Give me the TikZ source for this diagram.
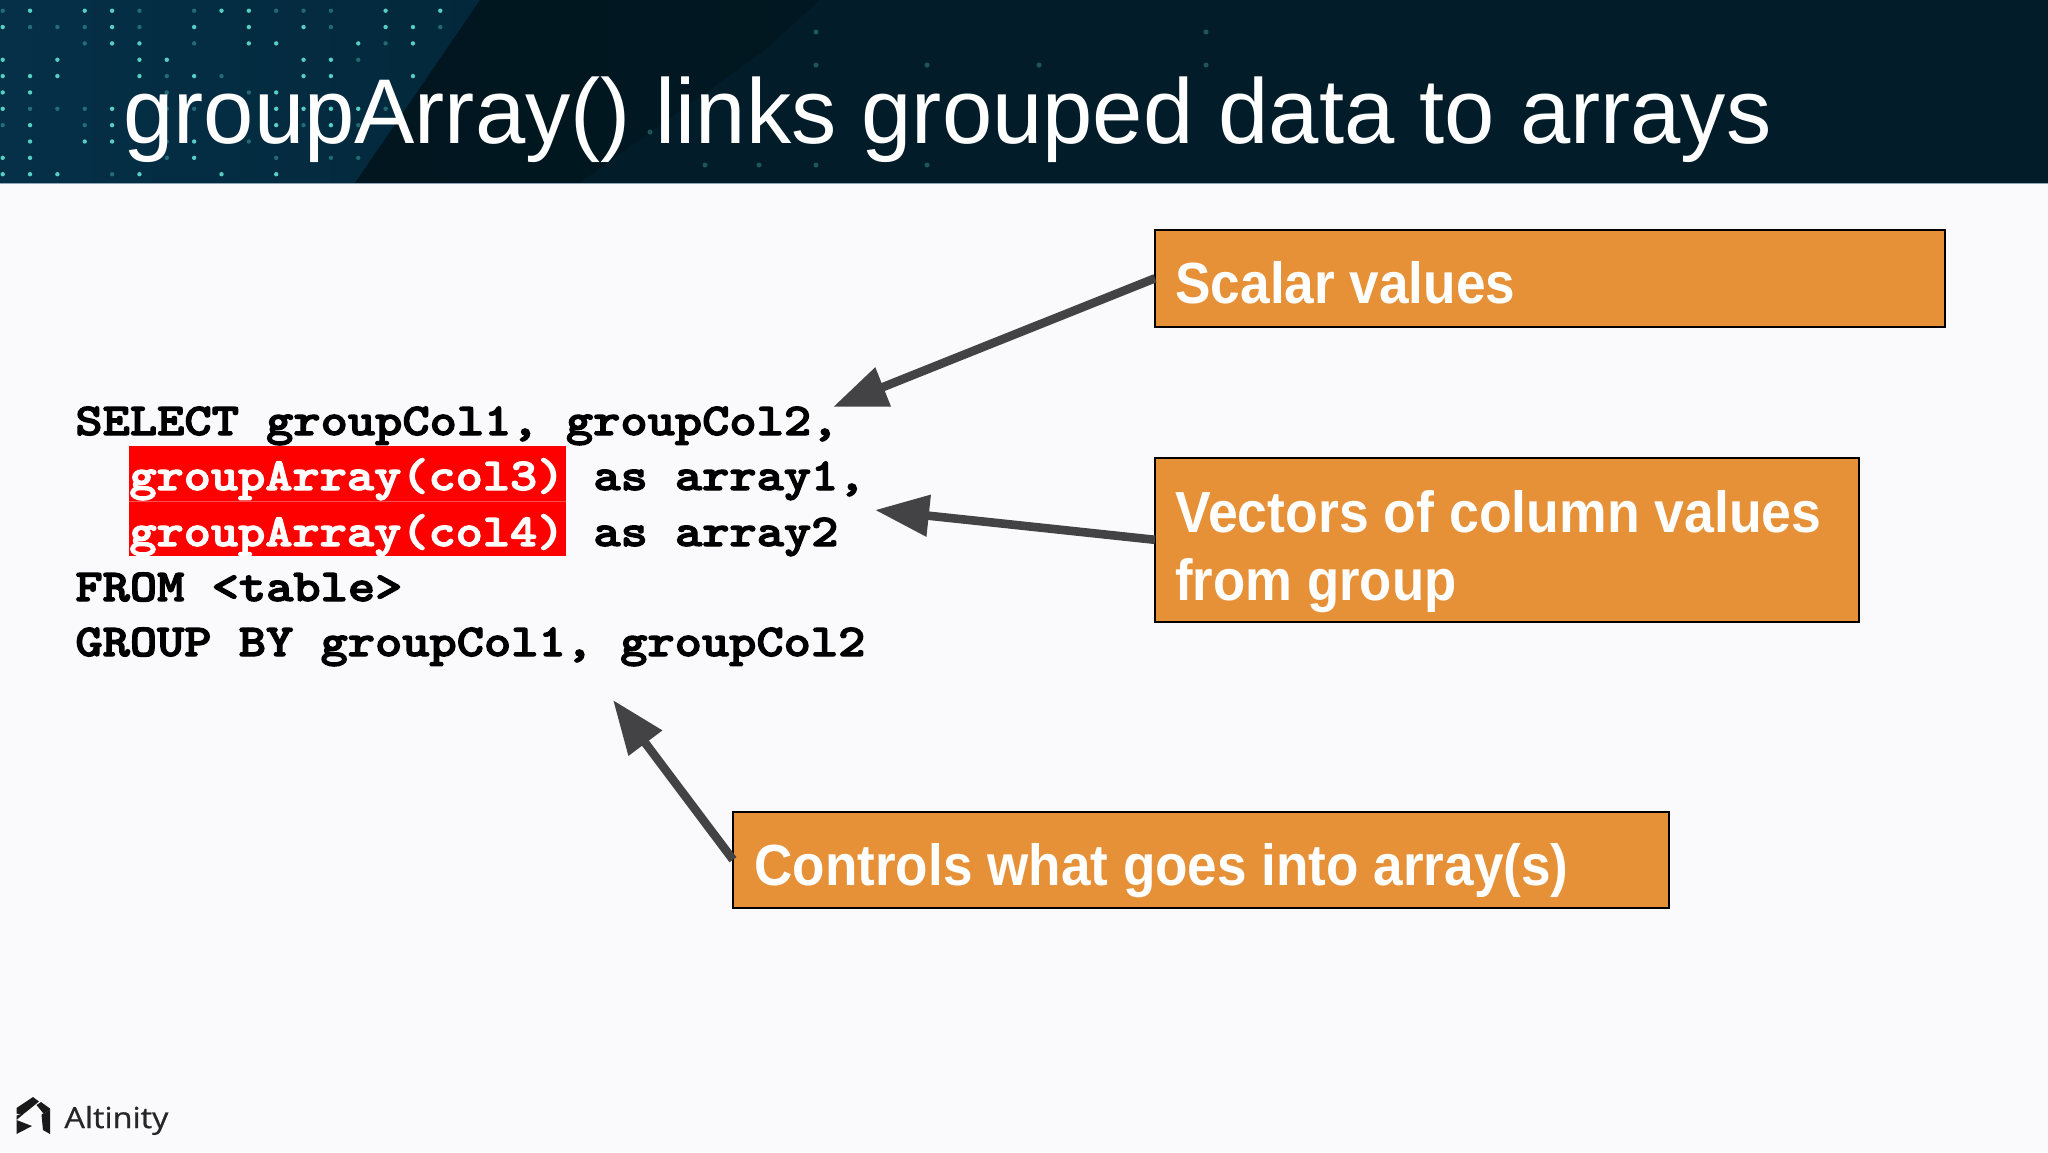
\documentclass[tikz,border=0pt]{standalone}
\usepackage{fontspec}
\usepackage{graphicx}
\usetikzlibrary{arrows.meta,shadings}
\setmainfont{Liberation Sans}
\newfontfamily\logofont[FakeBold=0.6]{Open Sans}
\newfontfamily\codefont[Extension=.otf,FakeBold=2.5]{lmmonolt10-bold}
\definecolor{pagebg}{HTML}{FAF9FC}
\definecolor{hdrL}{HTML}{053048}
\definecolor{hdrM}{HTML}{03283B}
\definecolor{hdrD}{HTML}{01161F}
\definecolor{hdrR}{HTML}{021D29}
\definecolor{hdrline}{HTML}{8FA6B8}
\definecolor{dotb}{HTML}{5FE0D0}
\definecolor{boxorange}{HTML}{E69138}
\definecolor{arrowgrey}{HTML}{434244}
\newcommand{\fitw}[2]{\resizebox{#1}{\height}{#2}}
\newcommand{\codew}[3]{\resizebox{#1}{#3\height}{\codefont #2}}
\tikzset{
  x=0.5pt,y=-0.5pt,
  callout/.style={draw=black,fill=boxorange,line width=1pt,inner sep=0pt,outer sep=0pt,anchor=north west},
  calltext/.style={text=white,anchor=base west,inner sep=0pt,font=\fontsize{29}{29}\selectfont\bfseries},
  code/.style={anchor=base west,inner sep=0pt,text=black,font=\fontsize{26}{26}\selectfont},
  hl/.style={fill=red,draw=none,inner sep=0pt,outer sep=0pt,anchor=north west,minimum width=218.25pt},
  pointer/.style={draw=arrowgrey,line width=4.3pt,-{Triangle[length=27pt,width=20pt,fill=arrowgrey]}},
}
\newcommand{\dotrow}[3]{\foreach \c in {#2}{\fill[dotb,opacity=#3] ({2.7+27.35*\c},{10.7+16.35*#1}) circle (2.2);}}
\begin{document}
\begin{tikzpicture}
\useasboundingbox (0,0) rectangle (2048,1152);
\fill[pagebg] (0,0) rectangle (2048,1152);
% header
\shade[left color=hdrL,right color=hdrM] (0,0) rectangle (480,183);
\shade[left color=hdrD,right color=hdrR] (355,183) -- (480,0) -- (2048,0) -- (2048,183) -- cycle;
\fill[hdrR] (580,183) -- (765,50) -- (820,0) -- (2048,0) -- (2048,183) -- cycle;
% dots
\dotrow{0}{1,3,4,8,9,14,16}{0.9}\dotrow{0}{0,5,7,10,11,12}{0.35}
\dotrow{1}{0,4,7,9,11,14,15}{0.9}\dotrow{1}{1,2,3,5,12,16}{0.35}
\dotrow{2}{4,5,9,10,13,15}{0.9}\dotrow{2}{3,7,14}{0.35}
\dotrow{3}{0,2,5,6,11,12}{0.9}\dotrow{3}{13}{0.35}
\dotrow{4}{0,1,2,5,7,11,12,15}{0.9}\dotrow{4}{6,8}{0.35}
\dotrow{5}{0,1,10}{0.9}\dotrow{5}{6,9}{0.35}
\dotrow{6}{0,4,10,11,12,13}{0.9}\dotrow{6}{1,2,3,6,7,14}{0.35}
\dotrow{7}{1,4,10,12}{0.9}\dotrow{7}{0,3,11,13}{0.35}
\dotrow{8}{1,3,4,7}{0.9}\dotrow{8}{6,9}{0.35}
\dotrow{9}{0,1,7}{0.9}\dotrow{9}{6,10,12,13}{0.35}
\dotrow{10}{0,1,2,5,8,10}{0.9}\dotrow{10}{4}{0.35}
\foreach \p in {(816,32),(1206,32),(816,65),(927,65),(1039,65),(1206,65),(650,132),(705,165),(759,165),(816,165),(927,165)}{\fill[dotb,opacity=0.3] \p circle (2.5);}
\draw[hdrline,line width=0.75pt] (0,183.5) -- (2048,183.5);
% title
\node[anchor=base west,inner sep=0pt,text=white,font=\fontsize{46}{46}\selectfont] (title) at (123,143) {\fitw{824pt}{groupArray() links grouped data to arrays}};
% code
\node[hl,minimum height=27.8pt] (hlone) at (129,446) {};
\node[hl,minimum height=27.1pt] (hltwo) at (129,502) {};
\draw[red!70!white,line width=0.4pt] (hlone.south west) -- (hlone.south east);
\node[code] (l1) at (75,435) {\codew{381.5pt}{SELECT groupCol1, groupCol2,}{0.88}};
\node[code,text=white] (l2a) at (129,490) {\codew{217.5pt}{groupArray(col3)}{0.88}};
\node[code] (l2b) at (593,490) {\codew{136pt}{as array1,}{0.88}};
\node[code,text=white] (l3a) at (129,546) {\codew{217.5pt}{groupArray(col4)}{0.88}};
\node[code] (l3b) at (593,546) {\codew{122.5pt}{as array2}{0.88}};
\node[code] (l4) at (75,601) {\codew{163.5pt}{FROM <table>}{0.88}};
\node[code] (l5) at (75,656) {\codew{395pt}{GROUP BY groupCol1, groupCol2}{0.88}};
% callouts
\node[callout,minimum width=395pt,minimum height=48.3pt] (scalar) at (1155,230) {};
\node[callout,minimum width=351.8pt,minimum height=81.8pt] (vectors) at (1155,458) {};
\node[callout,minimum width=468pt,minimum height=48pt] (controls) at (733,811.7) {};
\node[calltext] (scalart) at (1175,303) {\fitw{170pt}{Scalar values}};
\node[calltext] (vectorst) at (1175,532) {\fitw{323pt}{Vectors of column values}};
\node[calltext] (fromt) at (1175,600) {\fitw{140.5pt}{from group}};
\node[calltext] (controlst) at (754,885) {\fitw{407pt}{Controls what goes into array(s)}};
% pointers
\coordinate (tipa) at (833,407);
\coordinate (tipb) at (875,510);
\coordinate (tipc) at (613,700);
\draw[pointer] (scalar.west) -- (tipa);
\draw[pointer] (vectors.west) -- (tipb);
\draw[pointer] (controls.west) -- (tipc);
% logo
\fill[black!90] (16.5,1108) -- (33,1097) -- (39,1101.5) -- (26,1112) -- (22,1115) -- (16.5,1113.5) -- cycle;
\fill[black!90] (36.5,1105) -- (41,1102) -- (50,1108.5) -- (50,1110) -- (43.5,1113.5) -- cycle;
\fill[black!90] (41.5,1114.5) -- (50,1110) -- (50,1134) -- (43,1130) -- cycle;
\fill[black!90] (16.5,1115.5) -- (24,1113.5) -- (16.5,1120) -- cycle;
\fill[black!90] (16.5,1120) -- (32,1126) -- (16.5,1134) -- cycle;
\node[anchor=base west,inner sep=0pt,text=black!85,font=\logofont\fontsize{14.5}{14.5}\selectfont] (logo) at (64,1128) {\fitw{52pt}{Altinity}};
\end{tikzpicture}
\end{document}
